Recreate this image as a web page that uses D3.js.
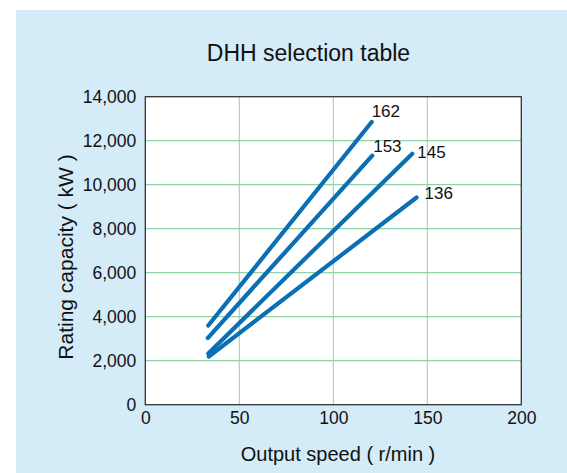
<!DOCTYPE html>
<html><head><meta charset="utf-8">
<script src="https://cdn.jsdelivr.net/npm/d3@7"></script>
<style>body{margin:0;background:#fff}svg{display:block}text{font-family:"Liberation Sans",Arial,sans-serif;fill:#111}</style>
</head><body><svg id="c" width="567" height="473"></svg>
<script>
const title = "DHH selection table";
const xTitle = "Output speed ( r/min )";
const yTitle = "Rating capacity ( kW )";
const xTicks = [0, 50, 100, 150, 200];
const yTicks = [0, 2000, 4000, 6000, 8000, 10000, 12000, 14000];
const seriesNames = ["162", "153", "145", "136"];
const speeds = [[33.5, 120.4], [33.2, 120.7], [33.5, 142], [33.8, 144.3]];
const capacities = [[3600, 12850], [3030, 11320], [2330, 11410], [2190, 9420]];

const svg = d3.select("#c");
svg.append("rect").attr("x",16).attr("y",10).attr("width",551).attr("height",463).attr("fill","#d4ebf8");
const L=145.3,R=521.3,T=96.7,B=404.7;
const x = d3.scaleLinear().domain([0,200]).range([L,R]);
const y = d3.scaleLinear().domain([0,14000]).range([B,T]);
svg.append("rect").attr("x",L).attr("y",T).attr("width",R-L).attr("height",B-T).attr("fill","#fff");
// grid
svg.append("g").selectAll("line").data(xTicks.slice(1,-1)).join("line")
  .attr("x1",d=>x(d)).attr("x2",d=>x(d)).attr("y1",T).attr("y2",B).attr("stroke","#8fd3a6").attr("stroke-width",1);
svg.append("g").selectAll("line").data(yTicks.slice(1,-1)).join("line")
  .attr("y1",d=>y(d)).attr("y2",d=>y(d)).attr("x1",L).attr("x2",R).attr("stroke","#8fd3a6").attr("stroke-width",1.3);
// axes
const fmt = d3.format(",");
const xa = svg.append("g").attr("transform",`translate(0,${B})`).call(d3.axisBottom(x).tickValues(xTicks).tickSize(0).tickPadding(7).tickFormat(d=>d));
xa.select(".domain").remove();
xa.selectAll("text").attr("font-size",17.5).attr("font-family","Liberation Sans, Arial, sans-serif").attr("fill","#111");
const ya = svg.append("g").attr("transform",`translate(${L},0)`).call(d3.axisLeft(y).tickValues(yTicks).tickSize(0).tickPadding(9).tickFormat(fmt));
ya.select(".domain").remove();
ya.selectAll("text").attr("font-size",17.5).attr("font-family","Liberation Sans, Arial, sans-serif").attr("fill","#111");
// border
svg.append("rect").attr("x",L).attr("y",T).attr("width",R-L).attr("height",B-T).attr("fill","none").attr("stroke","#333").attr("stroke-width",1.3);
// lines
const line = d3.line().x(d=>x(d[0])).y(d=>y(d[1]));
seriesNames.forEach((n,i)=>{
  const pts = speeds[i].map((s,j)=>[s,capacities[i][j]]);
  svg.append("path").datum(pts).attr("d",line).attr("fill","none").attr("stroke","#0b6fb3").attr("stroke-width",4.2).attr("stroke-linecap","round");
});
const labelOffsets = [[0,-5],[1,-4],[5,4],[8,2]];
seriesNames.forEach((n,i)=>{
  svg.append("text").attr("x",x(speeds[i][1])+labelOffsets[i][0]).attr("y",y(capacities[i][1])+labelOffsets[i][1]).attr("font-size",17).text(n);
});
svg.append("text").attr("x",308.5).attr("y",61).attr("text-anchor","middle").attr("font-size",23).text(title);
svg.append("text").attr("x",338).attr("y",461).attr("text-anchor","middle").attr("font-size",20).text(xTitle);
svg.append("text").attr("transform",`translate(73,257) rotate(-90)`).attr("text-anchor","middle").attr("font-size",21).text(yTitle);
</script></body></html>
